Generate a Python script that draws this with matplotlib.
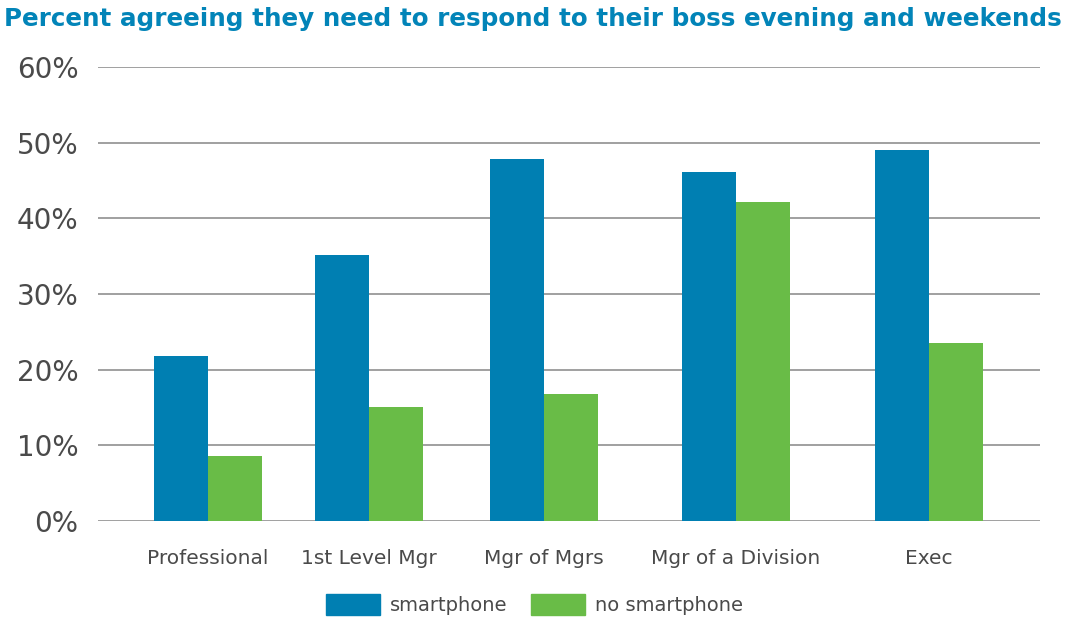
import numpy as np
import matplotlib.pyplot as plt
from matplotlib.patches import Patch

categories = ['Professional', '1st Level Mgr', 'Mgr of Mgrs', 'Mgr of a Division', 'Exec']
smartphone = [21.8, 35.2, 47.8, 46.1, 49.0]
no_smartphone = [8.6, 15.1, 16.8, 42.1, 23.5]
yticks = [0, 10, 20, 30, 40, 50, 60]

blue = '#007fb2'
green = '#69bc47'
grey_text = '#4a4a4a'

# group centres are not evenly spaced in the original
group_x = np.array([0, 0.894, 1.867, 2.933, 4.006])
w = 0.3

fig = plt.figure(figsize=(10.69, 6.18), dpi=100)
ax = fig.add_axes([0.0917, 0.157, 0.8813, 0.7346])

ax.bar(group_x - w / 2, smartphone, w, color=blue, zorder=3)
ax.bar(group_x + w / 2, no_smartphone, w, color=green, zorder=3)

ax.set_ylim(0, 60)
ax.set_xlim(-0.611, 4.622)
ax.set_yticks(yticks)
ax.set_yticklabels([f'{t}%' for t in yticks], fontsize=20, color=grey_text)
ax.set_xticks(group_x)
ax.set_xticklabels(categories, fontsize=14.5, color=grey_text)
ax.tick_params(axis='y', length=0, pad=14)
ax.tick_params(axis='x', length=0, pad=20)
ax.yaxis.grid(True, color='#999999', linewidth=1.3, zorder=0)
for s in ax.spines.values():
    s.set_visible(False)

fig.text(0.004, 0.97, 'Percent agreeing they need to respond to their boss evening and weekends',
         fontsize=17.75, fontweight='bold', color='#0284b8', va='center', ha='left')

handles = [Patch(color=blue, label='smartphone'), Patch(color=green, label='no smartphone')]
leg = fig.legend(handles=handles, loc='center', bbox_to_anchor=(0.5, 0.022), ncol=2, frameon=False,
                 handlelength=2.8, handleheight=1.3, columnspacing=1.2, handletextpad=0.5,
                 prop={'size': 14})
for t in leg.get_texts():
    t.set_color(grey_text)

fig.savefig('out.png', dpi=100)
